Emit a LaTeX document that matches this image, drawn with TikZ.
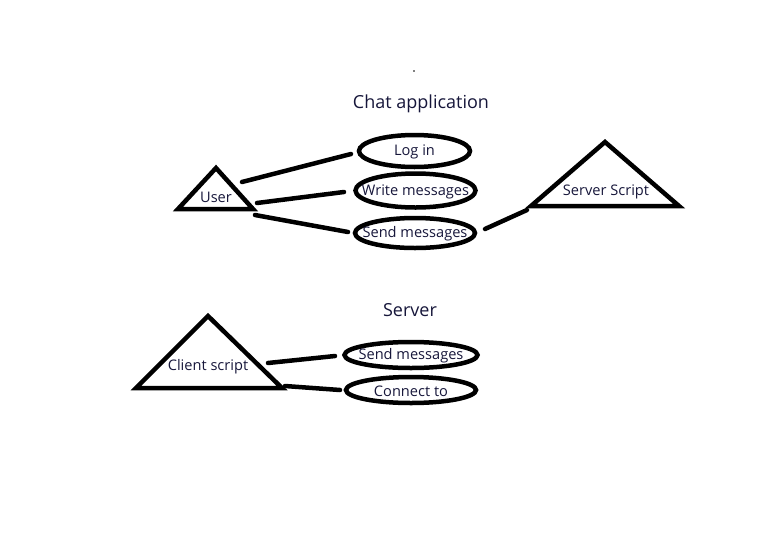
\documentclass[tikz,border=0pt]{standalone}
\usepackage{fontspec}
\setmainfont{Open Sans}
\usetikzlibrary{shapes.geometric}
\definecolor{txt}{RGB}{22,22,58}
\tikzset{
  lbl/.style={text=txt, inner sep=0pt, font=\fontsize{14.6}{17}\selectfont},
  title/.style={text=txt, inner sep=0pt, font=\fontsize{18}{21}\selectfont},
  ell/.style={draw, ellipse, line width=4.5pt, inner sep=0pt},
  tri/.style={draw, line width=4.5pt, line join=miter},
  conn/.style={line width=4.5pt, line cap=round}
}
\begin{document}
\begin{tikzpicture}[x=1pt,y=-1pt]
\useasboundingbox (0,0) rectangle (766,536);
\fill[black] (414,71) circle (0.8);
\node[title] (t1) at (421,104) {Chat application};
\node[title] (t2) at (410,310) {Server};
% ellipses
\node[ell, minimum width=111pt, minimum height=32pt] (login) at (414.5,151) {};
\node[lbl] at ([yshift=-1pt]login.center) {Log in};
\node[ell, minimum width=120pt, minimum height=34pt] (write) at (415.5,190.5) {};
\node[lbl] at ([yshift=-1pt]write.center) {Write messages};
\node[ell, minimum width=120pt, minimum height=30pt] (send) at (415,233) {};
\node[lbl] at ([yshift=-1pt]send.center) {Send messages};
\node[ell, minimum width=133pt, minimum height=26pt] (send2) at (411,355) {};
\node[lbl] at ([yshift=-1pt]send2.center) {Send messages};
\node[ell, minimum width=130pt, minimum height=26pt] (conn) at (411,390) {};
\node[lbl] at ([yshift=-1pt]conn.center) {Connect to};
% triangles
\draw[tri] (216,168) -- (178,209) -- (253,209) -- cycle;
\node[lbl] (user) at (216,197) {User};
\draw[tri] (605,142) -- (531,206) -- (679,206) -- cycle;
\node[lbl] (server) at (606,192) {Server Script};
\draw[tri] (208,316) -- (136,388) -- (282,388) -- cycle;
\node[lbl] (client) at (208,367) {Client script};
% connector endpoints
\coordinate (u1) at (242,182);
\coordinate (l1) at (351,154);
\coordinate (u2) at (257,203);
\coordinate (w1) at (344,192);
\coordinate (u3) at (255,215);
\coordinate (s1) at (348,232);
\coordinate (s2) at (485,229);
\coordinate (sv) at (527,210);
\coordinate (c1) at (268,363);
\coordinate (m1) at (335,356);
\coordinate (c2) at (285,386);
\coordinate (k1) at (340,390);
\draw[conn] (u1) -- (l1);
\draw[conn] (u2) -- (w1);
\draw[conn] (u3) -- (s1);
\draw[conn] (s2) -- (sv);
\draw[conn] (c1) -- (m1);
\draw[conn] (c2) -- (k1);
\end{tikzpicture}
\end{document}
